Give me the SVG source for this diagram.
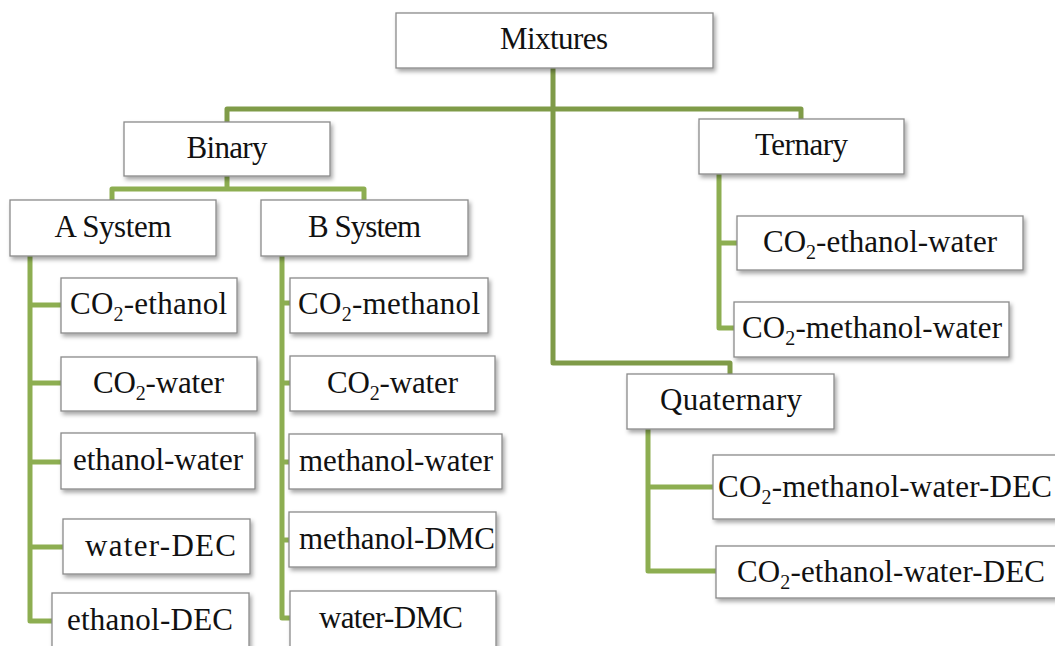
<svg xmlns="http://www.w3.org/2000/svg" width="1055" height="646" viewBox="0 0 1055 646">
<defs>
<filter id="sh" x="-10%" y="-20%" width="125%" height="150%">
<feDropShadow dx="2" dy="3" stdDeviation="2" flood-color="#000" flood-opacity="0.35"/>
</filter>
</defs>
<style>
.box{fill:#fff;stroke:#8a8a8a;stroke-width:1.3;filter:url(#sh)}
.t{font-family:'Liberation Serif','DejaVu Serif',serif;font-size:31px;fill:#111;text-anchor:middle}
.s{font-size:20px}
.c1{fill:none;stroke:#7f9b48;stroke-width:5;stroke-linejoin:round}
.c2{fill:none;stroke:#8dae51;stroke-width:5;stroke-linejoin:round}
</style>
<rect width="1055" height="646" fill="#fff"/>
<g id="connectors">
<path class="c1" d="M553,68 V363 H730 V374"/>
<path class="c1" d="M227,122 V109 H801 V119"/>
<path class="c2" d="M227,176 V189"/>
<path class="c2" d="M112,200 V189 H364 V200"/>
<path class="c2" d="M30,256 V621 H52 M30,305 H61 M30,383 H61 M30,462 H61 M30,547 H63"/>
<path class="c2" d="M282,256 V618 H290 M282,303 H290 M282,383 H290 M282,462 H289 M282,540 H289"/>
<path class="c2" d="M719,174 V328 H734 M719,243 H737"/>
<path class="c2" d="M648,429 V571 H716 M648,487 H713"/>
</g>
<g font-family="Liberation Serif, DejaVu Serif, serif">
<g id="mixtures"><rect class="box" x="396" y="13" width="317" height="55"/><text class="t" x="554" y="49" textLength="108">Mixtures</text></g>
<g id="binary"><rect class="box" x="124" y="122" width="206" height="54"/><text class="t" x="227" y="158" textLength="81">Binary</text></g>
<g id="ternary"><rect class="box" x="699" y="119" width="205" height="55"/><text class="t" x="801.5" y="155" textLength="93">Ternary</text></g>
<g id="quaternary"><rect class="box" x="627" y="374" width="207" height="55"/><text class="t" x="731" y="410" textLength="142">Quaternary</text></g>
<g id="a-system"><rect class="box" x="10" y="200" width="206" height="56"/><text class="t" x="113" y="237" textLength="117">A System</text></g>
<g id="b-system"><rect class="box" x="261" y="200" width="207" height="56"/><text class="t" x="364.5" y="237" textLength="113">B System</text></g>
<g id="a-co2-ethanol"><rect class="box" x="61" y="278" width="176" height="55"/><text class="t" x="148.5" y="314" textLength="157">CO<tspan class="s" dy="7">2</tspan><tspan dy="-7">-ethanol</tspan></text></g>
<g id="a-co2-water"><rect class="box" x="61" y="357" width="196" height="54"/><text class="t" x="158.5" y="393" textLength="131">CO<tspan class="s" dy="7">2</tspan><tspan dy="-7">-water</tspan></text></g>
<g id="a-ethanol-water"><rect class="box" x="61" y="433" width="194" height="56"/><text class="t" x="158" y="470" textLength="170">ethanol-water</text></g>
<g id="a-water-dec"><rect class="box" x="63" y="519" width="187" height="55"/><text class="t" x="160.5" y="556" textLength="151">water-DEC</text></g>
<g id="a-ethanol-dec"><rect class="box" x="52" y="593" width="197" height="70"/><text class="t" x="150" y="630" textLength="166">ethanol-DEC</text></g>
<g id="b-co2-methanol"><rect class="box" x="290" y="278" width="198" height="55"/><text class="t" x="389" y="314" textLength="182">CO<tspan class="s" dy="7">2</tspan><tspan dy="-7">-methanol</tspan></text></g>
<g id="b-co2-water"><rect class="box" x="290" y="356" width="205" height="55"/><text class="t" x="392.5" y="393" textLength="131">CO<tspan class="s" dy="7">2</tspan><tspan dy="-7">-water</tspan></text></g>
<g id="b-methanol-water"><rect class="box" x="289" y="434" width="213" height="55"/><text class="t" x="396" y="471" textLength="194">methanol-water</text></g>
<g id="b-methanol-dmc"><rect class="box" x="289" y="512" width="207" height="55"/><text class="t" x="397" y="549" textLength="196">methanol-DMC</text></g>
<g id="b-water-dmc"><rect class="box" x="290" y="591" width="206" height="70"/><text class="t" x="391" y="628" textLength="144">water-DMC</text></g>
<g id="t-co2-ethanol-water"><rect class="box" x="737" y="216" width="286" height="54"/><text class="t" x="880" y="252" textLength="234">CO<tspan class="s" dy="7">2</tspan><tspan dy="-7">-ethanol-water</tspan></text></g>
<g id="t-co2-methanol-water"><rect class="box" x="734" y="302" width="275" height="55"/><text class="t" x="872" y="338" textLength="260">CO<tspan class="s" dy="7">2</tspan><tspan dy="-7">-methanol-water</tspan></text></g>
<g id="q-co2-methanol-water-dec"><rect class="box" x="713" y="455" width="350" height="64"/><text class="t" x="885" y="497" textLength="334">CO<tspan class="s" dy="7">2</tspan><tspan dy="-7">-methanol-water-DEC</tspan></text></g>
<g id="q-co2-ethanol-water-dec"><rect class="box" x="716" y="546" width="347" height="52"/><text class="t" x="891" y="582" textLength="308">CO<tspan class="s" dy="7">2</tspan><tspan dy="-7">-ethanol-water-DEC</tspan></text></g>
</g>
</svg>
